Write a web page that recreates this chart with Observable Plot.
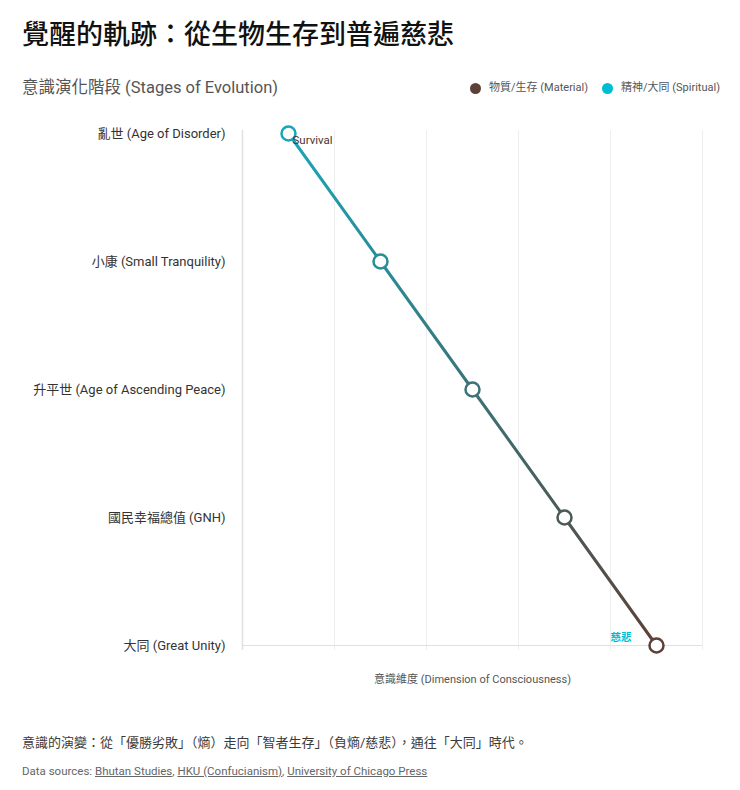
<!DOCTYPE html>
<html>
<head>
<meta charset="utf-8">
<script src="https://cdn.jsdelivr.net/npm/d3@7"></script>
<script src="https://cdn.jsdelivr.net/npm/@observablehq/plot@0.6"></script>
<style>
  html, body { margin: 0; padding: 0; background: #fff; }
  body { width: 740px; font-family: Roboto, "Noto Sans CJK TC", "Noto Sans", sans-serif; }
  .title { height: 70px; line-height: 70px; padding-left: 22px; font-size: 27px; font-weight: 500; color: #111; }
  .head { height: 36px; line-height: 36px; padding-left: 22px; padding-right: 20px; display: flex; justify-content: space-between; }
  .sub { font-size: 16.5px; color: #555; }
  .legend { font-size: 11px; color: #555; display: flex; align-items: center; }
  .legend span.dot { display: inline-block; width: 11px; height: 11px; border-radius: 50%; margin-right: 8px; }
  .legend .item { display: flex; align-items: center; margin-left: 14px; }
  svg { display: block; }
  .note { margin-top: 37px; line-height: 20px; padding-left: 22px; font-size: 13px; color: #3a3a3a; }
  .src { margin-top: 9px; line-height: 18px; padding-left: 22px; font-size: 11.5px; color: #666; }
  .src a { color: #666; text-decoration: underline; }
</style>
</head>
<body>
<div class="title">覺醒的軌跡：從生物生存到普遍慈悲</div>
<div class="head">
  <div class="sub">意識演化階段 (Stages of Evolution)</div>
  <div class="legend" id="legend"></div>
</div>
<div id="chart"></div>
<div class="note">意識的演變：從「優勝劣敗」（熵）走向「智者生存」（負熵/慈悲），通往「大同」時代。</div>
<div class="src">Data sources: <a>Bhutan Studies</a>, <a>HKU (Confucianism)</a>, <a>University of Chicago Press</a></div>
<script>
// Data
const stages = ["亂世 (Age of Disorder)", "小康 (Small Tranquility)", "升平世 (Age of Ascending Peace)", "國民幸福總值 (GNH)", "大同 (Great Unity)"];
const consciousness = [10, 30, 50, 70, 90];
const xTicks = [0, 20, 40, 60, 80, 100];
const legendLabels = ["物質/生存 (Material)", "精神/大同 (Spiritual)"];
const legendColors = ["#5d4037", "#00bcd4"];
const annoStart = { label: "Survival", stage: stages[0], value: consciousness[0] };
const annoEnd = { label: "慈悲", stage: stages[4], value: consciousness[4] };
const xLabel = "意識維度 (Dimension of Consciousness)";

const data = stages.map((s, i) => ({ stage: s, value: consciousness[i], i }));

// legend
const lg = document.getElementById("legend");
legendLabels.forEach((l, i) => {
  const it = document.createElement("div");
  it.className = "item";
  it.innerHTML = `<span class="dot" style="background:${legendColors[i]}"></span>${l}`;
  lg.appendChild(it);
});

const topColor = "#18a6b8", bottomColor = "#5d4037";

const chart = Plot.plot({
  width: 740,
  height: 590,
  marginLeft: 242,
  marginRight: 38,
  marginTop: 27,
  marginBottom: 51,
  style: { fontFamily: 'Roboto, "Noto Sans CJK TC", sans-serif', background: "#fff" },
  x: { domain: [0, 100], axis: null },
  y: { type: "point", domain: stages, padding: 0, axis: null },
  color: { type: "linear", domain: [0, stages.length - 1], range: [topColor, bottomColor] },
  marks: [
    Plot.ruleX(xTicks, { stroke: "#eeeeee", strokeWidth: 1, insetTop: -3, insetBottom: -5 }),
    Plot.ruleX([0], { stroke: "#e0e0e0", strokeWidth: 1.5, insetTop: -3, insetBottom: -5 }),
    Plot.ruleY([stages[stages.length - 1]], { stroke: "#e0e0e0", strokeWidth: 1 }),
    Plot.axisY({ tickSize: 0, tickPadding: 17, fontSize: 13, label: null, color: "#333" }),
    Plot.line(data, { x: "value", y: "stage", stroke: "url(#trajGrad)", strokeWidth: 3 }),
    Plot.dot(data, { x: "value", y: "stage", r: 7, fill: "white", stroke: "i", strokeWidth: 2.5 }),
    Plot.text([annoStart], { x: "value", y: "stage", text: "label", textAnchor: "start", dx: 4, dy: 7, fontSize: 11.5, fill: "#4e342e" }),
    Plot.text([annoEnd], { x: "value", y: "stage", text: "label", textAnchor: "end", dx: -25, dy: -8, fontSize: 10.5, fontWeight: "bold", fill: "#00bcd4" }),
    Plot.text([xLabel], { frameAnchor: "bottom", dy: 37, fontSize: 11, fill: "#555" })
  ]
});

// gradient definition for the trajectory line
const ns = "http://www.w3.org/2000/svg";
const defs = document.createElementNS(ns, "defs");
const grad = document.createElementNS(ns, "linearGradient");
grad.setAttribute("id", "trajGrad");
grad.setAttribute("gradientUnits", "userSpaceOnUse");
grad.setAttribute("x1", "0"); grad.setAttribute("x2", "0");
grad.setAttribute("y1", "27"); grad.setAttribute("y2", "539");
[[0, topColor], [1, bottomColor]].forEach(([o, c]) => {
  const st = document.createElementNS(ns, "stop");
  st.setAttribute("offset", o);
  st.setAttribute("stop-color", c);
  grad.appendChild(st);
});
defs.appendChild(grad);
chart.insertBefore(defs, chart.firstChild);

document.getElementById("chart").appendChild(chart);
</script>
</body>
</html>
